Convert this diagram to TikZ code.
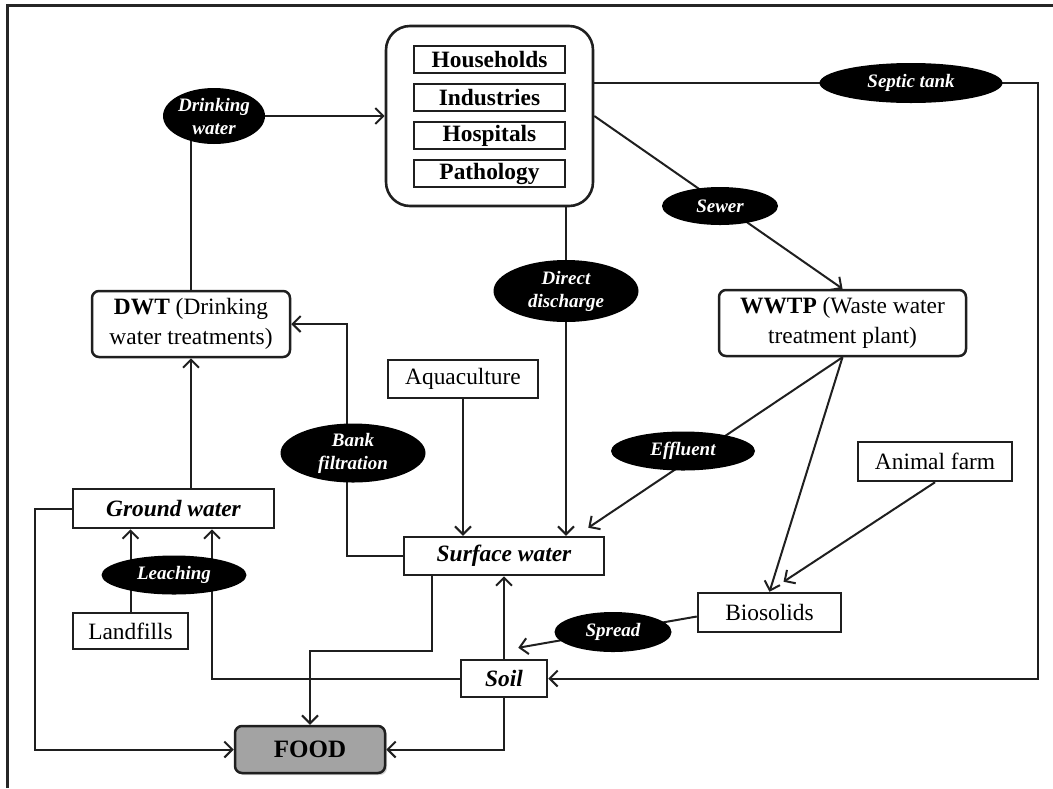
\documentclass[tikz,border=0pt]{standalone}
\usepackage{fontspec}
\setmainfont{Liberation Serif}
\usetikzlibrary{shapes.geometric,arrows.meta,shadows}
\pgfdeclarelayer{bg}
\pgfsetlayers{bg,main}
\begin{document}
\begin{tikzpicture}[x=0.5pt,y=-0.5pt,
  box/.style={draw=black!88,line width=1.25pt,fill=white,inner sep=0pt,align=center,
    font=\fontsize{11.7}{15}\selectfont},
  rbox/.style={box,rounded corners=3.5pt},
  ibox/.style={box,font=\bfseries\itshape\fontsize{11.7}{15}\selectfont},
  item/.style={box,line width=1.1pt,minimum width=75.5pt,minimum height=13.5pt,
    font=\bfseries\fontsize{11.7}{14}\selectfont},
  oval/.style={ellipse,fill=black,text=white,inner sep=0pt,align=center,
    font=\bfseries\itshape\fontsize{9.5}{11.5}\selectfont},
  link/.style={draw=black!88,line width=1pt},
  arr/.style={link,-{Straight Barb[length=4pt,width=8pt]}},
]
\useasboundingbox (0,0) rectangle (1053,788);

% outer frame
\draw[line width=1.5pt,black!85] (7,788) -- (7,5) -- (1053,5);

% sources of wastewater
\node[box,minimum width=103.5pt,minimum height=90pt,rounded corners=12pt,line width=1.3pt] (src) at (489.5,116) {};
\node[item] (hh) at (489.5,59.5) {Households};
\node[item] (ind) at (489.5,97.5) {Industries};
\node[item] (hosp) at (489.5,135.5) {Hospitals};
\node[item] (patho) at (489.5,173.5) {Pathology};

% pathways (black ovals)
\node[oval,minimum width=51pt,minimum height=28pt] (drink) at (214,116) {Drinking\\water};
\node[oval,minimum width=91.5pt,minimum height=20pt] (septic) at (911,83) {Septic tank};
\node[oval,minimum width=58pt,minimum height=19pt] (sewer) at (720,206) {Sewer};
\node[oval,minimum width=72.5pt,minimum height=31pt] (direct) at (566,291) {Direct\\discharge};
\node[oval,minimum width=72.5pt,minimum height=29.5pt] (bank) at (353,453) {Bank\\filtration};
\node[oval,minimum width=72pt,minimum height=19.5pt] (effl) at (683,451) {Effluent};
\node[oval,minimum width=72.5pt,minimum height=19.5pt] (leach) at (174,575) {Leaching};
\node[oval,minimum width=58.5pt,minimum height=20pt] (spread) at (613,632) {Spread};

% compartments
\node[rbox,minimum width=99pt,minimum height=33pt] (dwt) at (191,324) {\textbf{DWT} (Drinking\\water treatments)};
\node[rbox,minimum width=123.5pt,minimum height=33pt] (wwtp) at (842.5,323) {\textbf{WWTP} (Waste water\\treatment plant)};
\node[box,minimum width=75pt,minimum height=19pt] (aqua) at (463,379) {Aquaculture};
\node[box,minimum width=77pt,minimum height=19.5pt] (farm) at (935,461.5) {Animal farm};
\node[ibox,minimum width=100.5pt,minimum height=19.5pt] (ground) at (173.5,508.5) {Ground water};
\node[ibox,minimum width=100pt,minimum height=19pt] (surf) at (504,556) {Surface water};
\node[box,minimum width=57.5pt,minimum height=18pt] (land) at (130.5,631) {Landfills};
\node[box,minimum width=71.5pt,minimum height=19.5pt] (bio) at (769.5,612.5) {Biosolids};
\node[ibox,minimum width=43pt,minimum height=18.5pt] (soil) at (504,678.5) {Soil};
\node[rbox,fill=black!36,minimum width=75pt,minimum height=23.5pt,
  drop shadow={opacity=0.35,shadow xshift=1pt,shadow yshift=-1pt},
  font=\bfseries\fontsize{12.5}{15}\selectfont] (food) at (310,749.5) {FOOD};

\coordinate (sc) at (1038,83);

% connectors
\begin{pgfonlayer}{bg}
\draw[arr] (dwt.north) -- (dwt.north |- drink.center) -- (drink.center -| src.west);
\draw[arr] (dwt.south |- ground.north) -- (dwt.south);
\draw[arr] (land.north) -- (land.north |- ground.south);
\draw[arr] (soil.west) -| ([xshift=19.25pt]ground.south);
\draw[arr] (ground.west) -- ++(-18.5pt,0) |- (food.west);
\draw[arr] ([xshift=-36pt]surf.south) -- ++(0,-37.5pt) -| (food.north);
\draw[arr] (soil.north) -- (surf.south);
\draw[arr] (soil.south) |- (food.east);
\draw[arr] (src.east |- septic) -- (sc) |- (soil.east);
\draw[arr] (src.south -| direct) -- (surf.north -| direct);
\draw[arr] (aqua.south) -- (aqua.south |- surf.north);
\draw[arr] (surf.west) -| ([xshift=-3pt]bank.center) |- (dwt.east);
\draw[arr] (src.east) -- (wwtp.north);
\draw[arr] (wwtp.south) -- ([shift={(-8.5pt,4pt)}]surf.north east);
\draw[arr] (wwtp.south) -- (bio.north);
\draw[arr] (farm.south) -- ([shift={(7pt,5pt)}]bio.north);
\draw[arr] ([yshift=-2pt]bio.west) -- ([shift={(-15pt,5.5pt)}]soil.north east);
\end{pgfonlayer}
\end{tikzpicture}
\end{document}
